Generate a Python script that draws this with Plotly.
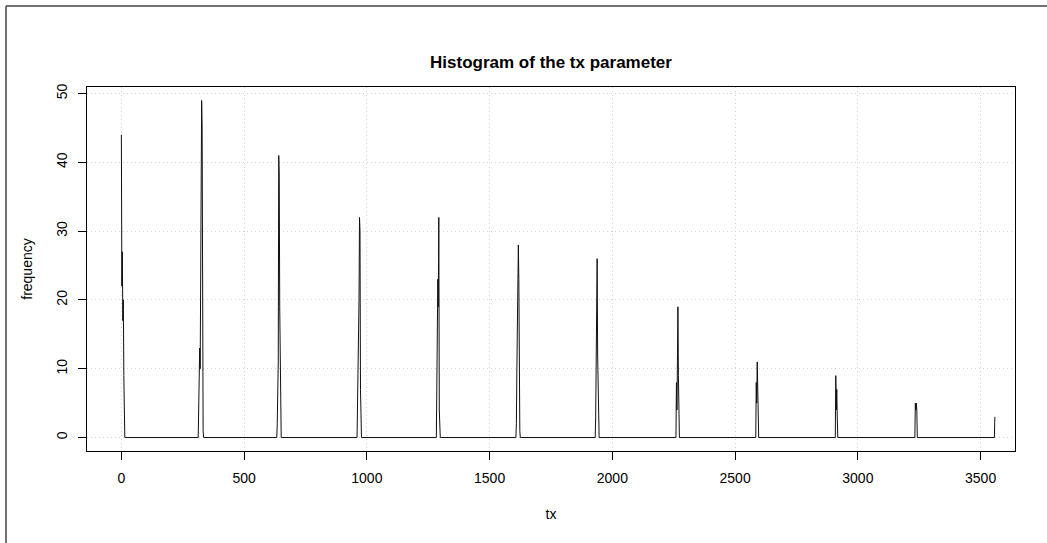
import plotly.graph_objects as go

# ---- data ----
bin_width = 2
cluster_starts = [0, 313, 633, 960, 1283, 1607, 1930, 2259, 2584, 2908, 3232, 3556]
c01 = [44, 22, 27, 17, 20, 9, 2, 0]
c02 = [0, 5, 3, 13, 10, 26, 22, 49, 45, 8, 1, 0]
c03 = [0, 2, 9, 11, 41, 38, 19, 9, 1, 0]
c04 = [0, 6, 3, 17, 20, 32, 30, 7, 2, 0]
c05 = [0, 7, 9, 23, 19, 32, 4, 1, 0]
c06 = [0, 2, 10, 20, 17, 28, 23, 6, 1, 0]
c07 = [0, 3, 11, 14, 26, 12, 4, 2, 0]
c08 = [0, 8, 4, 11, 19, 9, 3, 0]
c09 = [0, 8, 5, 11, 4, 2, 0]
c10 = [0, 9, 4, 7, 3, 0]
c11 = [0, 5, 4, 5, 4, 0]
c12 = [0, 3]
clusters = [c01, c02, c03, c04, c05, c06, c07, c08, c09, c10, c11, c12]

x_ticks = [0, 500, 1000, 1500, 2000, 2500, 3000, 3500]
y_ticks = [0, 10, 20, 30, 40, 50]

tx, freq = [], []
for start, counts in zip(cluster_starts, clusters):
    for i, c in enumerate(counts):
        tx.append(start + i * bin_width)
        freq.append(c)

# ---- layout geometry ----
W, H = 1047, 543
L, R, T, B = 87, 32, 87, 92
pw, ph = W - L - R, H - T - B

def px_x(px):
    return (px - L) / pw

def px_y(py):
    return (H - B - py) / ph

FONT = "Liberation Sans, Arial, Helvetica, sans-serif"

fig = go.Figure()
fig.add_trace(go.Scatter(x=tx, y=freq, mode="lines",
                         line=dict(color="#111111", width=1),
                         showlegend=False, hoverinfo="x+y"))

axis_common = dict(
    showline=True, linecolor="black", linewidth=1, mirror=True,
    ticks="outside", ticklen=8, tickcolor="black", tickwidth=1,
    showgrid=True, gridcolor="#D3D3D3", gridwidth=1, griddash="1px,3px",
    zeroline=False,
    tickfont=dict(family=FONT, size=14, color="black"),
)

fig.update_layout(
    width=W, height=H,
    margin=dict(l=L, r=R, t=T, b=B, autoexpand=False),
    paper_bgcolor="white", plot_bgcolor="white",
    title=dict(text="<b>Histogram of the tx parameter</b>",
               font=dict(family=FONT, size=17, color="black"),
               x=0.5, xref="paper", xanchor="center",
               y=(H - 62) / H, yref="container", yanchor="middle"),
    xaxis=dict(range=[-140, 3640], tickvals=x_ticks,
               ticktext=[str(v) for v in x_ticks],
               ticklabelstandoff=6,
               title=dict(text="tx", font=dict(family=FONT, size=14, color="black"),
                          standoff=24),
               **axis_common),
    yaxis=dict(range=[-1.96, 50.96], tickvals=y_ticks,
               ticktext=[str(v) for v in y_ticks], tickangle=-90,
               ticklabelstandoff=5,
               title=dict(text="frequency", font=dict(family=FONT, size=14, color="black"),
                          standoff=18),
               **axis_common),
    shapes=[
        dict(type="line", xref="paper", yref="paper",
             x0=px_x(6), x1=px_x(W + 5), y0=px_y(6), y1=px_y(6),
             line=dict(color="#444444", width=1.5)),
        dict(type="line", xref="paper", yref="paper",
             x0=px_x(6), x1=px_x(6), y0=px_y(6), y1=px_y(H + 5),
             line=dict(color="#444444", width=1.5)),
    ],
)

fig.write_html("out.html", config={"displayModeBar": False},
               post_script="document.body.style.margin='0';document.body.style.overflow='hidden';")
